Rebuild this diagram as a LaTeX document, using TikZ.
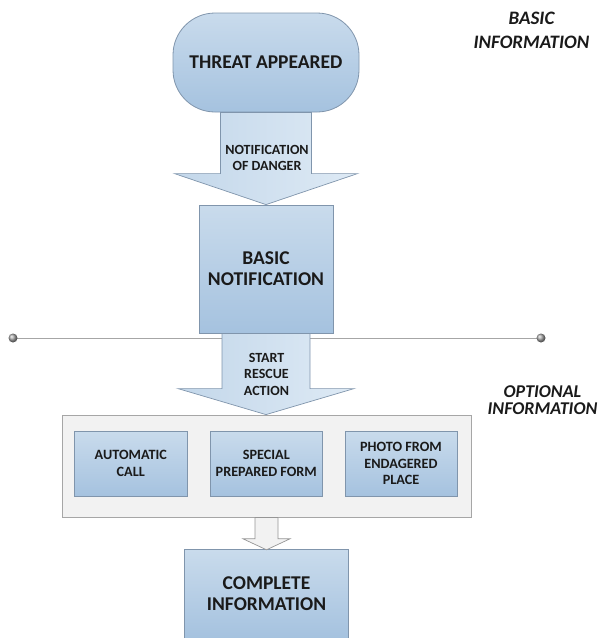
\documentclass[tikz,border=0pt]{standalone}
\usepackage{fontspec}
\setmainfont{Carlito}
\usetikzlibrary{calc}
\definecolor{boxtop}{HTML}{C9DBEC}
\definecolor{boxbot}{HTML}{A5C2DF}
\definecolor{boxline}{HTML}{8095AC}
\definecolor{arrl}{HTML}{C3D7EA}
\definecolor{arrr}{HTML}{DEEAF5}
\definecolor{contfill}{HTML}{F2F2F2}
\definecolor{contline}{HTML}{A6A6A6}
\definecolor{txt}{HTML}{1A1A1A}
\newcommand{\blockarrow}[6]{%
  \path[#1] let \p1=(#2), \p2=(#3) in
    (\x1-#4,\y1) -- (\x1-#4,\y2+#6) -- (\x1-#5,\y2+#6) -- (\x1,\y2)
    -- (\x1+#5,\y2+#6) -- (\x1+#4,\y2+#6) -- (\x1+#4,\y1) -- cycle;}
\begin{document}
\begin{tikzpicture}[x=1pt,y=-1pt,
  bluebox/.style={draw=boxline, line width=0.8pt, top color=boxtop, bottom color=boxbot,
    text=txt, align=center, inner sep=0pt, font=\bfseries},
  bigtext/.style={font=\fontsize{19.5}{21}\selectfont\bfseries},
  smalltext/.style={font=\fontsize{14.2}{16.5}\selectfont\bfseries},
  bluearrow/.style={draw=boxline, line width=0.7pt, left color=arrl, right color=arrr},
  grayarrow/.style={draw=contline!90!black, line width=0.7pt, fill=contfill},
  sidelabel/.style={text=txt, align=center, inner sep=0pt},
  arrlabel/.style={text=txt, align=center, inner sep=0pt, font=\fontsize{14}{16.5}\selectfont\bfseries}]
\useasboundingbox (0,0) rectangle (606,638);

% separator line with end dots
\coordinate (dl) at (13,338);
\coordinate (dr) at (541,338);
\draw[contline, line width=0.9pt] (dl) -- (dr);
\shade[ball color=gray!70] (dl) circle (4.5pt);
\shade[ball color=gray!70] (dr) circle (4.5pt);

% main shapes
\node[bluebox, bigtext, rounded corners=42pt, minimum width=186pt, minimum height=99pt]
  (threat) at (266,62.5) {THREAT APPEARED};
\node[bluebox, bigtext, minimum width=134pt, minimum height=128pt]
  (basic) at (266,269) {BASIC\\NOTIFICATION};
\node[draw=contline, line width=0.8pt, fill=contfill, minimum width=409pt, minimum height=102pt, inner sep=0pt]
  (cont) at (266.5,466) {};
\node[bluebox, smalltext, minimum width=113pt, minimum height=65pt]
  (auto) at (130.8,463.5) {AUTOMATIC\\CALL};
\node[bluebox, smalltext, minimum width=112.5pt, minimum height=65pt]
  (form) at (266.3,463.5) {SPECIAL\\PREPARED FORM};
\node[bluebox, smalltext, minimum width=112pt, minimum height=65pt]
  (photo) at (401,463.5) {PHOTO FROM\\ENDAGERED\\PLACE};
\node[top color=boxtop, bottom color=boxbot, text=txt, align=center, inner sep=0pt,
  bigtext, minimum width=163pt, minimum height=88pt, text depth=0pt]
  (complete) at (266.5,594) {COMPLETE\\INFORMATION};
\draw[boxline, line width=0.8pt] (complete.south west) -- (complete.north west)
  -- (complete.north east) -- (complete.south east);

% block arrows
\blockarrow{bluearrow}{threat.south}{basic.north}{45.5pt}{91.5pt}{31pt}
\blockarrow{bluearrow}{basic.south}{cont.north}{44pt}{88pt}{26pt}
\blockarrow{grayarrow}{cont.south}{complete.north}{11.5pt}{23.5pt}{11pt}

% arrow labels
\node[arrlabel] (lab1) at (267,158) {NOTIFICATION\\OF DANGER};
\node[arrlabel] (lab2) at (266.5,374) {START\\RESCUE\\ACTION};

% side labels
\node[sidelabel, font=\fontsize{19}{24}\selectfont\bfseries\itshape] (basicinfo) at (531.5,30) {BASIC\\INFORMATION};
\node[sidelabel, font=\fontsize{18}{17.5}\selectfont\bfseries\itshape] (optinfo) at (542.5,400) {OPTIONAL\\INFORMATION};
\end{tikzpicture}
\end{document}
